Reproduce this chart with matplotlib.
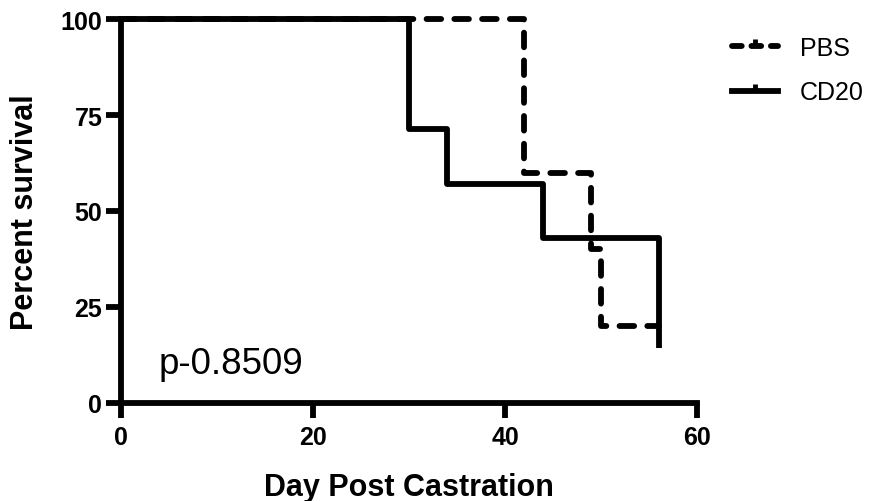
import matplotlib
matplotlib.use("Agg")
import matplotlib.pyplot as plt
from matplotlib.lines import Line2D

plt.rcParams['font.family'] = ['Liberation Sans', 'DejaVu Sans']
plt.rcParams['lines.scale_dashes'] = False

# Data (Kaplan-Meier steps)
pbs_days = [0, 42, 49, 50, 56]
pbs_surv = [100, 60, 40, 20, 20]
cd20_days = [0, 30, 34, 44, 56]
cd20_surv = [100, 71.4, 57.1, 42.9, 14.3]
x_ticks = [0, 20, 40, 60]
y_ticks = [0, 25, 50, 75, 100]
p_text = "p-0.8509"

fig = plt.figure(figsize=(8.82, 5.02), dpi=100)
ax = fig.add_axes([121/882, 1-404/502, (697-121)/882, (404-20)/502])

lw = 4.2
dash = (0, (10.5, 9.5))
ax.step(pbs_days, pbs_surv, where='post', color='black', lw=lw,
        linestyle=dash, dash_capstyle='round', clip_on=False, zorder=3)
ax.step(cd20_days, cd20_surv, where='post', color='black', lw=lw,
        solid_capstyle='butt', clip_on=False, zorder=4)

ax.set_xlim(0, 60)
ax.set_ylim(0, 100)
ax.set_xticks(x_ticks)
ax.set_yticks(y_ticks)
for s in ['top', 'right']:
    ax.spines[s].set_visible(False)
for s in ['left', 'bottom']:
    ax.spines[s].set_linewidth(4.2)
    ax.spines[s].set_capstyle('projecting')
ax.tick_params(axis='both', which='major', length=10.5, width=4.2, direction='out',
               labelsize=18)
ax.tick_params(axis='x', pad=5)
ax.tick_params(axis='y', pad=3)
for lab in ax.get_xticklabels() + ax.get_yticklabels():
    lab.set_fontweight('bold')

ax.set_xlabel('Day Post Castration', fontsize=22, fontweight='bold')
ax.set_ylabel('Percent survival', fontsize=22, fontweight='bold')
ax.xaxis.set_label_coords(0.5, -(473-404)/384)
ax.yaxis.set_label_coords(-(121-40)/576, 0.5)

ax.text(3.9, 7.8, p_text, fontsize=26.5, ha='left', va='baseline')

handles = [
    Line2D([], [], color='black', lw=lw, linestyle=(0, (7, 7)), dash_capstyle='round',
           marker=2, markersize=5, markeredgewidth=3.5),
    Line2D([], [], color='black', lw=lw, marker=2, markersize=5, markeredgewidth=3.5),
]
leg = ax.legend(handles, ['PBS', 'CD20'], loc='upper left',
                bbox_to_anchor=(732/882, 1-37/502), bbox_transform=fig.transFigure,
                frameon=False, fontsize=18, handlelength=1.84, handletextpad=0.88,
                labelspacing=0.82, numpoints=1, borderaxespad=0, borderpad=0)

fig.savefig('out.png', dpi=100)
